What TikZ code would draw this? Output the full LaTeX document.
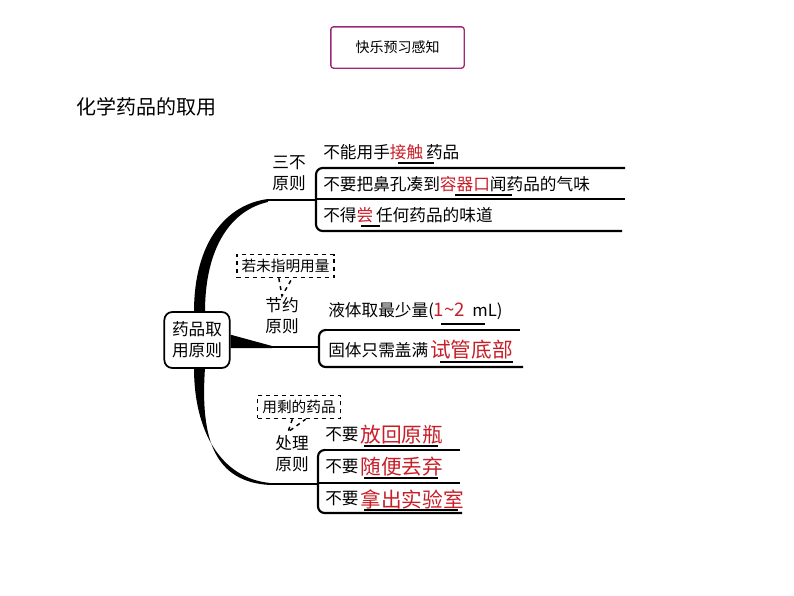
\documentclass[tikz,border=0pt]{standalone}
\usepackage{fontspec}
\setmainfont{Noto Sans CJK SC}
\usepackage{tikz}
\usetikzlibrary{positioning}
\definecolor{ansred}{RGB}{200,30,40}
\definecolor{titlepurple}{RGB}{160,40,120}
\begin{document}
\begin{tikzpicture}[x=0.75pt, y=-0.75pt,
		txt_style/.style={anchor=west, inner sep=0pt, font=\fontsize{12.5}{12.5}\selectfont},
		ans_style/.style={anchor=west, inner sep=0pt, text=ansred, font=\fontsize{15.5}{15.5}\selectfont},
		lbl_style/.style={align=center, inner sep=0pt, font=\fontsize{12.5}{15.5}\selectfont},
		rule_style/.style={draw=black, line width=1.6pt},
		ul_style/.style={draw=black, line width=1.1pt},
		note_style/.style={draw=black, dashed, line width=1.1pt, inner sep=3.5pt, font=\fontsize{11}{11}\selectfont}]
	\useasboundingbox (0,0) rectangle (794,596);

	% title and heading
	\node[draw=titlepurple, line width=1pt, rounded corners=2pt, minimum width=100pt, minimum height=31pt,
		font=\fontsize{10.5}{10.5}\selectfont] (title) at (397.5,47.5) {快乐预习感知};
	\node[anchor=west, inner sep=0pt, font=\fontsize{15}{15}\selectfont] (head) at (76,107) {化学药品的取用};

	% root
	\node[draw=black, line width=1.3pt, rounded corners=6pt, minimum width=49pt, minimum height=42pt,
		align=center, font=\fontsize{12.5}{16}\selectfont] (root) at (197,340) {药品取\\用原则};

	% tapered branches
	\fill (194,312) .. controls (194,240) and (228,204) .. (268,199) -- (268,202)
		.. controls (232,210) and (205,246) .. (205,312) -- cycle;
	\fill (194,368) .. controls (194,430) and (220,478) .. (270,483) -- (270,485)
		.. controls (215,482) and (200,440) .. (205,368) -- cycle;
	\fill ([yshift=4pt]root.east) -- (272,346) -- (272,348) -- ([yshift=-6pt]root.east) -- cycle;
	\coordinate (b1) at (268,200);
	\coordinate (b2) at (272,347);
	\coordinate (b3) at (270,484);
	\coordinate (k1) at (316,200);
	\coordinate (k2) at (320,347);
	\coordinate (k3) at (318,484);
	\draw[rule_style] (b1) -- (k1);
	\draw[rule_style] (b2) -- (k2);
	\draw[rule_style] (b3) -- (k3);

	% branch labels
	\node[lbl_style] (l1) at (289,173) {三不\\原则};
	\node[lbl_style] (l2) at (282,316) {节约\\原则};
	\node[lbl_style] (l3) at (292,454) {处理\\原则};

	% callouts
	\node[note_style] (n1) at (285.5,266) {若未指明用量};
	\node[note_style] (n2) at (299,407) {用剩的药品};
	\coordinate (t1) at (282,296);
	\coordinate (t2) at (288,432);
	\draw[black, dashed, line width=1.1pt] ([xshift=-5pt]n1.south) -- (t1) -- ([xshift=5pt]n1.south);
	\draw[black, dashed, line width=1.1pt] ([xshift=-5pt]n2.south) -- (t2) -- ([xshift=5pt]n2.south);

	% top group
	\draw[rule_style, rounded corners=5pt] (625,168) -- (316,168) -- (316,231) -- (622,231);
	\draw[rule_style] (625,199) -- (316,199);
	\node[txt_style] (a1) at (323,152) {不能用手\textcolor{ansred}{接触}\,药品};
	\node[txt_style] (a2) at (323,184) {不要把鼻孔凑到\textcolor{ansred}{容器口}闻药品的气味};
	\node[txt_style] (a3) at (323,215) {不得\textcolor{ansred}{尝}\,任何药品的味道};
	\draw[ul_style] (398,163) -- (434,163);
	\draw[ul_style] (455,195) -- (512,195);
	\draw[ul_style] (361,226) -- (380,226);

	% middle group
	\draw[rule_style] (520,330) -- (325,330);
	\draw[rule_style, rounded corners=5pt] (325,330) -- (319,330) -- (319,367) -- (523,367);
	\node[txt_style] (a4) at (328,311) {液体取最少量(\textcolor{ansred}{\fontsize{14}{14}\selectfont 1\textasciitilde 2}\ \ mL)};
	\node[txt_style] (a5) at (328,350) {固体只需盖满};
	\node[ans_style, right=1pt of a5] (a6) {试管底部};
	\draw[ul_style] (441,324) -- (485,324);
	\draw[ul_style] (440,362) -- (513,362);

	% bottom group
	\draw[rule_style] (460,450) -- (325,450);
	\draw[rule_style, rounded corners=5pt] (325,450) -- (318,450) -- (318,513) -- (462,513);
	\draw[rule_style] (460,483) -- (318,483);
	\node[txt_style] (a7) at (325,435) {不要};
	\node[ans_style, right=1pt of a7] (a8) {放回原瓶};
	\node[txt_style] (a9) at (325,467) {不要};
	\node[ans_style, right=1pt of a9] (a10) {随便丢弃};
	\node[txt_style] (a11) at (325,499) {不要};
	\node[ans_style, right=1pt of a11] (a12) {拿出实验室};
	\draw[ul_style] (364,446) -- (438,446);
	\draw[ul_style] (364,478) -- (438,478);
	\draw[ul_style] (364,510) -- (458,510);
\end{tikzpicture}
\end{document}
